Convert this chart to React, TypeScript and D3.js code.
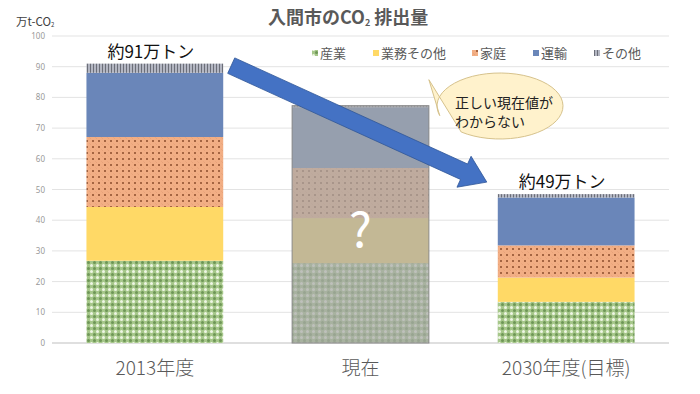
import React from 'react';
import * as d3 from 'd3';

const categories = ['2013年度', '現在', '2030年度(目標)'];
const seriesNames = ['産業', '業務その他', '家庭', '運輸', 'その他'];
const sangyo = [26.8, 26.0, 13.4];
const gyomu = [17.5, 14.7, 7.9];
const katei = [22.8, 16.3, 10.5];
const unyu = [20.9, 19.8, 15.6];
const sonota = [3.0, 0.5, 1.1];
const yTicks = [0, 10, 20, 30, 40, 50, 60, 70, 80, 90, 100];
const totalLabels = ['約91万トン', '', '約49万トン'];

const W = 700;
const H = 394;
const FONT = '"Noto Sans CJK JP", "Noto Sans", sans-serif';

const fills = ['url(#pSangyo)', '#ffd966', 'url(#pKatei)', '#6a86b9', 'url(#pSonota)'];

export default function App() {
  const x = d3.scaleBand<string>().domain(categories).range([52, 669]).paddingInner(0.335).paddingOuter(0.1675);
  const y = d3.scaleLinear().domain([0, 100]).range([343, 36]);
  const bw = x.bandwidth();

  const table = categories.map((c, i) => ({
    cat: c,
    産業: sangyo[i],
    業務その他: gyomu[i],
    家庭: katei[i],
    運輸: unyu[i],
    その他: sonota[i],
  }));
  const stacked = d3.stack<any>().keys(seriesNames)(table);
  const totals = categories.map((_, i) => sangyo[i] + gyomu[i] + katei[i] + unyu[i] + sonota[i]);

  // arrow from 2013 bar top to 2030 bar top
  const sx = (x(categories[0]) as number) + bw + 8;
  const sy = y(totals[0]) + 2;
  const tx = (x(categories[2]) as number) - 11;
  const ty = y(totals[2]) - 12;
  const dx = tx - sx, dy = ty - sy;
  const len = Math.hypot(dx, dy);
  const ux = dx / len, uy = dy / len;
  const px = -uy, py = ux;
  const sw = 8.5, hw = 17, hl = 25;
  const bx = tx - ux * hl, by = ty - uy * hl;
  const arrowPts = [
    [sx + px * sw, sy + py * sw],
    [bx + px * sw, by + py * sw],
    [bx + px * hw, by + py * hw],
    [tx, ty],
    [bx - px * hw, by - py * hw],
    [bx - px * sw, by - py * sw],
    [sx - px * sw, sy - py * sw],
  ];

  // speech bubble
  const cx = 500, cy = 106, rx = 63, ry = 33;
  const ang = (a: number) => [cx + rx * Math.cos((a * Math.PI) / 180), cy + ry * Math.sin((a * Math.PI) / 180)];
  const A = ang(163);
  const B = ang(128);
  const tip = [(x(categories[1]) as number) + bw, y(totals[1]) - 26];
  const bubblePath = `M${B[0]},${B[1]} L${tip[0]},${tip[1]} L${A[0]},${A[1]} A${rx},${ry} 0 1 1 ${B[0]},${B[1]} Z`;

  const legendX = [315, 376, 475, 536, 597];

  return (
    <svg width={W} height={H} style={{ display: 'block', position: 'absolute', left: 0, top: 0, background: '#fff' }}>
      <defs>
        <pattern id="pSangyo" width="6" height="6" patternUnits="userSpaceOnUse">
          <rect width="6" height="6" fill="#a6c78a" />
          <circle cx="1.5" cy="1.5" r="1.5" fill="#eef6e4" />
          <circle cx="4.5" cy="4.5" r="1.5" fill="#6e9656" />
        </pattern>
        <pattern id="pKatei" width="6" height="6" patternUnits="userSpaceOnUse">
          <rect width="6" height="6" fill="#f2ae84" />
          <circle cx="3" cy="3" r="1" fill="#8c4d2c" />
          <circle cx="0" cy="0" r="0.5" fill="#c77d55" />
          <circle cx="6" cy="6" r="0.5" fill="#c77d55" />
        </pattern>
        <pattern id="pSonota" width="3" height="3" patternUnits="userSpaceOnUse">
          <rect width="3" height="3" fill="#b3b6c2" />
          <rect width="1" height="3" fill="#6b6e78" />
        </pattern>
      </defs>

      {/* title */}
      <text x={268} y={24} fontFamily={FONT} fontSize={18} fontWeight="bold" fill="#595959">
        入間市のCO<tspan fontSize={9} dy={2}>2</tspan><tspan dy={-2}> 排出量</tspan>
      </text>

      {/* unit label */}
      <text x={16} y={26} fontFamily={FONT} fontSize={11.5} fill="#404040">
        万t-CO<tspan fontSize={6} dy={1}>2</tspan>
      </text>

      {/* grid */}
      {yTicks.map((t) => (
        <g key={t}>
          <line x1={52} x2={669} y1={y(t)} y2={y(t)} stroke={t === 0 ? '#bfbfbf' : '#e3e3e3'} strokeWidth={1} />
          <text x={45} y={y(t) + 3} textAnchor="end" fontFamily='"Liberation Sans Narrow", "Noto Sans", sans-serif' fontSize={8} fill="#999">
            {t}
          </text>
        </g>
      ))}

      {/* legend */}
      {seriesNames.map((s, i) => (
        <g key={s}>
          <rect x={legendX[i] - 3} y={50} width={6} height={6} fill={fills[i]} />
          <text x={legendX[i] + 5} y={58} fontFamily={FONT} fontSize={13} fill="#595959">
            {s}
          </text>
        </g>
      ))}

      {/* bars */}
      {stacked.map((layer, si) => (
        <g key={layer.key}>
          {layer.map((d, ci) => (
            <rect
              key={ci}
              x={x(categories[ci]) as number}
              y={y(d[1])}
              width={bw}
              height={y(d[0]) - y(d[1])}
              fill={fills[si]}
            />
          ))}
        </g>
      ))}

      {/* overlay gray on 現在 */}
      <rect
        x={x(categories[1]) as number}
        y={y(totals[1])}
        width={bw}
        height={y(0) - y(totals[1])}
        fill="#aaaaaa"
        fillOpacity={0.7}
        stroke="#8a8a8a"
        strokeWidth={1}
      />
      <text
        x={(x(categories[1]) as number) + bw / 2}
        y={247}
        textAnchor="middle"
        fontFamily={FONT}
        fontSize={48}
        fill="#ffffff"
      >
        ?
      </text>

      {/* total labels */}
      {totalLabels.map((t, i) =>
        t ? (
          <text
            key={i}
            x={(x(categories[i]) as number) + bw / 2 - 4}
            y={y(totals[i]) - 6}
            textAnchor="middle"
            fontFamily={FONT}
            fontSize={17}
            fill="#111"
          >
            {t}
          </text>
        ) : null
      )}

      {/* arrow */}
      <polygon points={arrowPts.map((p) => p.join(',')).join(' ')} fill="#4472c4" stroke="#2f5597" strokeWidth={0.8} />

      {/* bubble */}
      <path d={bubblePath} fill="#fff2cc" stroke="#d6c28c" strokeWidth={1} />
      <text x={455} y={108} fontFamily={FONT} fontSize={14} fill="#222">
        正しい現在値が
      </text>
      <text x={455} y={127} fontFamily={FONT} fontSize={14} fill="#222">
        わからない
      </text>

      {/* category labels */}
      {categories.map((c) => (
        <text
          key={c}
          x={(x(c) as number) + bw / 2}
          y={375}
          textAnchor="middle"
          fontFamily={FONT}
          fontSize={19}
          fontWeight={300}
          fill="#595959"
        >
          {c}
        </text>
      ))}
    </svg>
  );
}
